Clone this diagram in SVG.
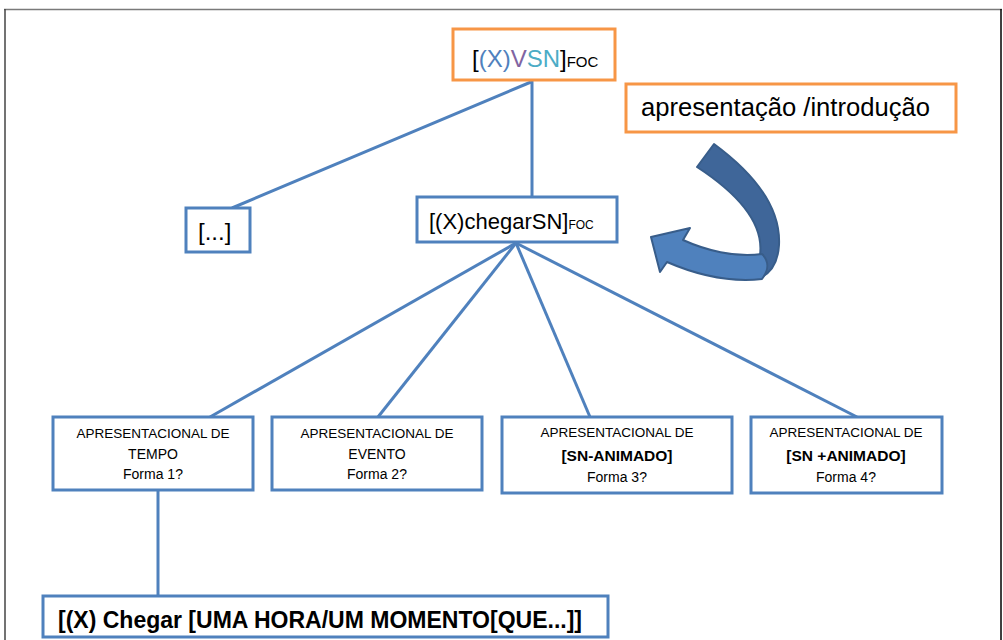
<svg xmlns="http://www.w3.org/2000/svg" width="1003" height="640" viewBox="0 0 1003 640">
<style>
.t{font-family:"Liberation Sans",Arial,sans-serif;fill:#000}
.box{fill:#fff;stroke:#4F81BD;stroke-width:3}
.obox{fill:#fff;stroke:#F79646;stroke-width:3}
.con{stroke:#4F81BD;stroke-width:3;fill:none}
.s{font-size:13.5px;text-anchor:middle}
.f{font-size:14px}
.b{font-size:15.5px;font-weight:bold}
</style>
<rect x="0" y="0" width="1003" height="640" fill="#fff"/>
<g id="frame">
<line x1="4" y1="9.5" x2="1002" y2="9.5" stroke="#7a7a7a" stroke-width="1.5"/>
<line x1="5" y1="9" x2="5" y2="640" stroke="#444" stroke-width="1.5"/>
<line x1="1001" y1="9" x2="1001" y2="640" stroke="#000" stroke-width="1.5"/>
</g>
<g id="connectors">
<line class="con" x1="532" y1="80" x2="532" y2="197"/>
<line class="con" x1="531" y1="82" x2="232" y2="208"/>
<line class="con" x1="516" y1="243" x2="210" y2="417"/>
<line class="con" x1="516" y1="243" x2="378" y2="417"/>
<line class="con" x1="516" y1="243" x2="590" y2="417"/>
<line class="con" x1="516" y1="243" x2="857" y2="417"/>
<line class="con" x1="158" y1="490" x2="158" y2="596"/>
</g>
<g id="arrow">
<path d="M697,167 L714,144 C752,172 781,205 779,245 C778,262 771,273 760,278 L760,255 C764,225 740,195 697,167 Z" fill="#3F6699" stroke="#385D8A" stroke-width="2" stroke-linejoin="round"/>
<path d="M762,254 C735,258 705,250 683,240 L690,228 L651,237 L660,272 L667,262 C690,272 725,283 762,279 C769,270 769,261 762,254 Z" fill="#4F81BD" stroke="#385D8A" stroke-width="2" stroke-linejoin="round"/>
</g>
<g id="top">
<rect class="obox" x="453" y="29" width="162" height="51"/>
<text class="t" x="472" y="67" font-size="24"><tspan>[</tspan><tspan fill="#4F81BD">(X)</tspan><tspan fill="#8064A2">V</tspan><tspan fill="#4BACC6">SN</tspan><tspan>]</tspan><tspan font-size="15">FOC</tspan></text>
</g>
<g id="apresentacao">
<rect class="obox" x="626" y="84" width="330" height="48"/>
<text class="t" x="641" y="116" font-size="25" textLength="289" lengthAdjust="spacingAndGlyphs">apresentação /introdução</text>
</g>
<g id="etc">
<rect class="box" x="186" y="208" width="64" height="44"/>
<text class="t" x="198" y="240" font-size="24">[...]</text>
</g>
<g id="chegar">
<rect class="box" x="417" y="197" width="200" height="45"/>
<text class="t" x="429" y="229" font-size="22">[(X)chegarSN]<tspan font-size="12">FOC</tspan></text>
</g>
<g id="tempo">
<rect class="box" x="53" y="417" width="200" height="73"/>
<text class="t s" x="153" y="438">APRESENTACIONAL DE</text>
<text class="t s f" x="153" y="459">TEMPO</text>
<text class="t s f" x="153" y="479">Forma 1?</text>
</g>
<g id="evento">
<rect class="box" x="272" y="417" width="210" height="73"/>
<text class="t s" x="377" y="438">APRESENTACIONAL DE</text>
<text class="t s f" x="377" y="459">EVENTO</text>
<text class="t s f" x="377" y="479">Forma 2?</text>
</g>
<g id="sn-animado">
<rect class="box" x="502" y="417" width="230" height="76"/>
<text class="t s" x="617" y="437">APRESENTACIONAL DE</text>
<text class="t s b" x="617" y="461">[SN-ANIMADO]</text>
<text class="t s f" x="617" y="482">Forma 3?</text>
</g>
<g id="sn-animado-plus">
<rect class="box" x="751" y="417" width="191" height="76"/>
<text class="t s" x="846" y="437">APRESENTACIONAL DE</text>
<text class="t s b" x="846" y="461">[SN +ANIMADO]</text>
<text class="t s f" x="846" y="482">Forma 4?</text>
</g>
<g id="chegar-hora">
<rect class="box" x="43" y="596" width="565" height="41"/>
<text class="t" x="58" y="628" font-size="24" font-weight="bold" textLength="524" lengthAdjust="spacingAndGlyphs">[(X) Chegar [UMA HORA/UM MOMENTO[QUE...]]</text>
</g>
</svg>
